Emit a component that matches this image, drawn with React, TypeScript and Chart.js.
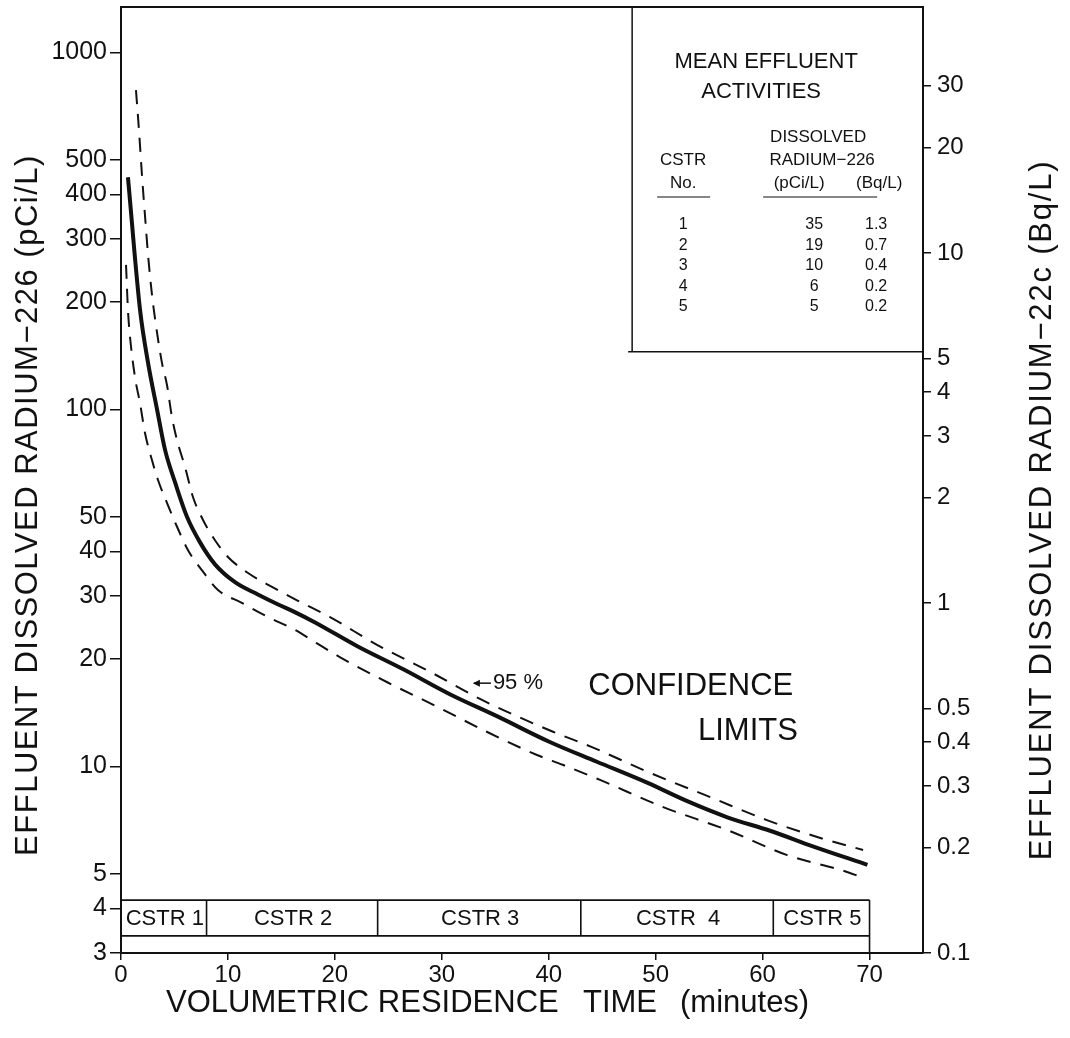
import React, { useEffect, useRef } from 'react';
import { Chart, registerables } from 'chart.js';

Chart.register(...registerables);

// ---------- data ----------
const xTicks = [0, 10, 20, 30, 40, 50, 60, 70];
const leftTicks = [3, 4, 5, 10, 20, 30, 40, 50, 100, 200, 300, 400, 500, 1000];
const rightTicks = [0.1, 0.2, 0.3, 0.4, 0.5, 1, 2, 3, 4, 5, 10, 20, 30];

// mean effluent activity (pCi/L) vs residence time (min)
const meanX = [0.65, 1.78, 2.53, 3.37, 4.12, 5.05, 6.17, 7.39, 8.79, 10.66, 12.8, 14.7, 16.3, 18.15, 22.1, 26.4, 30.8, 35.2, 40.1, 44.5, 49.2, 52.9, 56.7, 60.7, 64.7, 69.8];
const meanY = [447, 190, 135, 100, 77, 62.5, 50, 42.4, 36.8, 32.8, 30.3, 28.4, 27.0, 25.3, 21.7, 18.7, 15.9, 13.8, 11.7, 10.3, 9.0, 8.0, 7.2, 6.6, 5.97, 5.3];

// upper 95% confidence limit
const upperX = [1.40, 1.68, 1.96, 2.24, 2.53, 2.90, 3.27, 3.83, 4.30, 4.77, 5.24, 5.99, 6.73, 7.67, 8.79, 10.0, 11.88, 14.12, 16.74, 19.55, 23.94, 28.9, 33.85, 40.4, 44.1, 49.5, 55.1, 60.4, 65.4, 69.4];
const upperY = [784, 606, 453, 350, 271, 209, 172, 135, 117, 95, 82, 68.9, 56.8, 49.0, 43.0, 38.6, 34.8, 31.8, 28.9, 26.2, 21.9, 18.4, 15.3, 12.5, 11.3, 9.58, 8.2, 7.07, 6.3, 5.83];

// lower 95% confidence limit
const lowerX = [0.47, 0.65, 0.84, 1.31, 1.78, 2.24, 2.90, 3.46, 4.30, 5.24, 6.27, 7.58, 9.07, 11.3, 13.75, 16.27, 18.33, 20.5, 24.9, 29.55, 34.2, 38.9, 41.3, 44.8, 50.7, 56.7, 62.3, 67.9, 69.4];
const lowerY = [254, 190, 160, 123, 104, 86, 72, 63.4, 54.7, 46.9, 40.3, 35.4, 31.2, 28.7, 26.2, 24.1, 22.1, 20.2, 17.2, 14.7, 12.5, 10.76, 10.1, 9.16, 7.69, 6.63, 5.64, 5.06, 4.87];

// reactor (CSTR) segments along the time axis
const cstrBounds = [0, 8, 24, 43, 61, 70];
const cstrLabels = ['CSTR 1', 'CSTR 2', 'CSTR 3', 'CSTR  4', 'CSTR 5'];

// inset table
const tableNo = ['1', '2', '3', '4', '5'];
const tablePci = ['35', '19', '10', '6', '5'];
const tableBq = ['1.3', '0.7', '0.4', '0.2', '0.2'];

const FONT = '"Liberation Sans", Arial, Helvetica, sans-serif';
const INK = '#111';

function pts(xs: number[], ys: number[]) {
  return xs.map((x, i) => ({ x, y: ys[i] }));
}

const overlay = {
  id: 'overlay',
  afterDraw(chart: any) {
    const { ctx, chartArea: ca, scales } = chart;
    const xs = scales.x;
    const ys = scales.y;
    const line = (x1: number, y1: number, x2: number, y2: number) => {
      ctx.beginPath();
      ctx.moveTo(x1, y1);
      ctx.lineTo(x2, y2);
      ctx.stroke();
    };
    const text = (s: string, x: number, y: number, size: number, align: CanvasTextAlign = 'center', spacing = '0px') => {
      ctx.font = `${size}px ${FONT}`;
      ctx.textAlign = align;
      ctx.textBaseline = 'middle';
      (ctx as any).letterSpacing = spacing;
      ctx.fillText(s, x, y);
      (ctx as any).letterSpacing = '0px';
    };

    ctx.save();
    ctx.strokeStyle = INK;
    ctx.fillStyle = INK;

    // top frame
    ctx.lineWidth = 2;
    line(ca.left, ca.top, ca.right, ca.top);

    // CSTR band
    const bTop = ys.getPixelForValue(4.22);
    const bBot = ys.getPixelForValue(3.35);
    const xEnd = xs.getPixelForValue(cstrBounds[cstrBounds.length - 1]);
    ctx.lineWidth = 1.6;
    line(ca.left, bTop, xEnd, bTop);
    line(ca.left, bBot, xEnd, bBot);
    line(xEnd, bTop, xEnd, ca.bottom);
    for (let i = 1; i < cstrBounds.length - 1; i++) {
      const px = xs.getPixelForValue(cstrBounds[i]);
      line(px, bTop, px, bBot);
    }
    for (let i = 0; i < cstrLabels.length; i++) {
      const a = xs.getPixelForValue(cstrBounds[i]);
      const b = xs.getPixelForValue(cstrBounds[i + 1]);
      text(cstrLabels[i], (a + b) / 2 + 1, (bTop + bBot) / 2 + 1, 22);
    }

    // inset table box
    const bx = xs.getPixelForValue(47.8);
    const bb = ys.getPixelForValue(145);
    const by = ca.top;
    ctx.lineWidth = 1.5;
    line(bx, by, bx, bb);
    line(bx - 4, bb, ca.right, bb);
    text('MEAN EFFLUENT', bx + 134, by + 55, 22);
    text('ACTIVITIES', bx + 129, by + 85, 22);
    text('DISSOLVED', bx + 186, by + 130, 17);
    text('CSTR', bx + 51, by + 153, 17);
    text('RADIUM\u2212226', bx + 190, by + 153, 17);
    text('No.', bx + 51, by + 176, 17);
    text('(pCi/L)', bx + 167, by + 176, 17);
    text('(Bq/L)', bx + 247, by + 176, 17);
    ctx.lineWidth = 1.2;
    line(bx + 25, by + 190, bx + 78, by + 190);
    line(bx + 131, by + 190, bx + 245, by + 190);
    for (let i = 0; i < tableNo.length; i++) {
      const ry = by + 218 + i * 20.5;
      text(tableNo[i], bx + 51, ry, 16);
      text(tablePci[i], bx + 182, ry, 16);
      text(tableBq[i], bx + 244, ry, 16);
    }

    // annotations: arrow + "95 %"
    const ax = xs.getPixelForValue(33.0);
    const ay = ys.getPixelForValue(17.1);
    ctx.lineWidth = 1.5;
    line(ax, ay, ax + 17, ay);
    ctx.beginPath();
    ctx.moveTo(ax - 1, ay);
    ctx.lineTo(ax + 6, ay - 3.5);
    ctx.lineTo(ax + 6, ay + 3.5);
    ctx.closePath();
    ctx.fill();
    text('95 %', ax + 19, ay, 22, 'left');
    text('CONFIDENCE', xs.getPixelForValue(43.7), ys.getPixelForValue(16.75), 31, 'left');
    text('LIMITS', xs.getPixelForValue(63.3), ys.getPixelForValue(12.5), 31, 'right');

    // axis titles
    ctx.save();
    ctx.translate(28, 505);
    ctx.rotate(-Math.PI / 2);
    text('EFFLUENT DISSOLVED RADIUM\u2212226 (pCi/L)', 0, 0, 31, 'center', '1.5px');
    ctx.restore();

    ctx.save();
    ctx.translate(1042, 510);
    ctx.rotate(-Math.PI / 2);
    text('EFFLUENT DISSOLVED RADIUM\u221222c (Bq/L)', 0, 0, 31, 'center', '1.8px');
    ctx.restore();

    text('VOLUMETRIC RESIDENCE', 166, 1003, 31, 'left');
    text('TIME', 583, 1003, 31, 'left');
    text('(minutes)', 680, 1003, 31, 'left');

    ctx.restore();
  },
};

export default function App() {
  const ref = useRef<HTMLCanvasElement | null>(null);

  useEffect(() => {
    if (!ref.current) return;
    const tickFont = { family: FONT, size: 24 };
    const chart = new Chart(ref.current, {
      type: 'line',
      data: {
        datasets: [
          {
            data: pts(meanX, meanY),
            borderColor: INK,
            borderWidth: 4,
            pointRadius: 0,
            cubicInterpolationMode: 'monotone',
            yAxisID: 'y',
          },
          {
            data: pts(upperX, upperY),
            borderColor: INK,
            borderWidth: 2,
            borderDash: [14, 10],
            pointRadius: 0,
            cubicInterpolationMode: 'monotone',
            yAxisID: 'y',
          },
          {
            data: pts(lowerX, lowerY),
            borderColor: INK,
            borderWidth: 2,
            borderDash: [14, 10],
            pointRadius: 0,
            cubicInterpolationMode: 'monotone',
            yAxisID: 'y',
          },
        ],
      },
      options: {
        responsive: false,
        animation: false,
        layout: { padding: { top: 7, left: 0, right: 0, bottom: 0 } },
        plugins: { legend: { display: false }, tooltip: { enabled: false } },
        scales: {
          x: {
            type: 'linear',
            min: 0,
            max: 75,
            afterBuildTicks: (s: any) => {
              s.ticks = xTicks.map((v) => ({ value: v }));
            },
            afterFit: (s: any) => {
              s.height = 85;
              s.paddingLeft = 0;
              s.paddingRight = 0;
            },
            ticks: { font: tickFont, color: INK, padding: 1, maxRotation: 0, autoSkip: false },
            grid: { drawOnChartArea: false, drawTicks: true, tickLength: 7, color: INK, lineWidth: 1.5 },
            border: { color: INK, width: 2 },
          },
          y: {
            type: 'logarithmic',
            position: 'left',
            min: 3,
            max: 1340,
            afterBuildTicks: (s: any) => {
              s.ticks = leftTicks.map((v) => ({ value: v }));
            },
            afterFit: (s: any) => {
              s.width = 121;
              s.paddingTop = 0;
              s.paddingBottom = 0;
            },
            ticks: { font: { family: FONT, size: 25 }, color: INK, padding: 3, autoSkip: false, callback: (v: any) => String(v) },
            grid: { drawOnChartArea: false, drawTicks: true, tickLength: 11, color: INK, lineWidth: 1.5 },
            border: { color: INK, width: 2 },
          },
          y2: {
            type: 'logarithmic',
            position: 'right',
            min: 0.1,
            max: 50.4,
            afterBuildTicks: (s: any) => {
              s.ticks = rightTicks.map((v) => ({ value: v }));
            },
            afterFit: (s: any) => {
              s.width = 147;
              s.paddingTop = 0;
              s.paddingBottom = 0;
            },
            ticks: { font: tickFont, color: INK, padding: 6, autoSkip: false, callback: (v: any) => String(v) },
            grid: { drawOnChartArea: false, drawTicks: true, tickLength: 8, color: INK, lineWidth: 1.5 },
            border: { color: INK, width: 2 },
          },
        },
      },
      plugins: [overlay],
    } as any);
    return () => chart.destroy();
  }, []);

  return (
    <div style={{ position: 'absolute', left: 0, top: 0, width: 1070, height: 1038, background: '#fff' }}>
      <canvas ref={ref} width={1070} height={1038} style={{ width: 1070, height: 1038, display: 'block' }} />
    </div>
  );
}
